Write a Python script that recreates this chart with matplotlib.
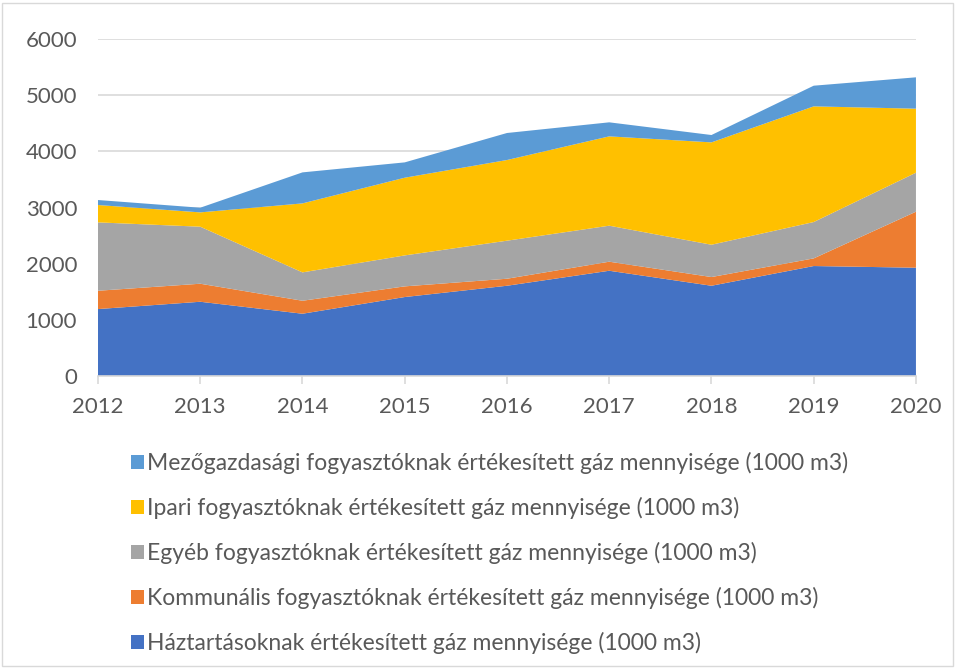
import matplotlib.pyplot as plt
from matplotlib.patches import Rectangle

# adatok (1000 m3)
evek = [2012, 2013, 2014, 2015, 2016, 2017, 2018, 2019, 2020]
haztartas = [1193, 1323, 1110, 1407, 1608, 1875, 1608, 1959, 1929]
kommunalis = [326, 321, 231, 190, 125, 161, 155, 136, 997]
egyeb = [1217, 1015, 505, 551, 677, 641, 575, 647, 694]
ipari = [309, 255, 1228, 1383, 1436, 1590, 1822, 2059, 1140]
mezogazdasagi = [89, 83, 552, 273, 481, 250, 131, 368, 558]

cimkek = [
    "Háztartásoknak értékesített gáz mennyisége (1000 m3)",
    "Kommunális fogyasztóknak értékesített gáz mennyisége (1000 m3)",
    "Egyéb fogyasztóknak értékesített gáz mennyisége (1000 m3)",
    "Ipari fogyasztóknak értékesített gáz mennyisége (1000 m3)",
    "Mezőgazdasági fogyasztóknak értékesített gáz mennyisége (1000 m3)",
]
szinek = ["#4472C4", "#ED7D31", "#A5A5A5", "#FFC000", "#5B9BD5"]

plt.rcParams['font.family'] = ['Lato', 'DejaVu Sans']

fig = plt.figure(figsize=(9.57, 6.68), dpi=100)
ax = fig.add_axes([0.1024, 0.437, 0.8547, 0.5046])

polys = ax.stackplot(evek, haztartas, kommunalis, egyeb, ipari, mezogazdasagi,
                     colors=szinek, labels=cimkek, zorder=2)

ax.set_xlim(2012, 2020)
ax.set_ylim(0, 6000)
ax.set_yticks(range(0, 6001, 1000))
ax.set_xticks(evek)
ax.grid(axis='y', color='#d9d9d9', linewidth=1.2, zorder=0)
for s in ['top', 'right', 'left']:
    ax.spines[s].set_visible(False)
ax.spines['bottom'].set_color('#d9d9d9')
ax.spines['bottom'].set_linewidth(1.2)
ax.spines['bottom'].set_zorder(3)
ax.tick_params(axis='y', length=0, labelsize=16, labelcolor='#595959', pad=15)
ax.tick_params(axis='x', length=6, color='#d9d9d9', width=1.2,
               labelsize=16, labelcolor='#595959', pad=9)

# jelmagyarazat forditott sorrendben
h, l = ax.get_legend_handles_labels()
fig.legend(h[::-1], l[::-1], loc='upper left', bbox_to_anchor=(0.115, 0.354),
           frameon=False, fontsize=16.5, labelcolor='#595959',
           handlelength=0.57, handleheight=0.6, handletextpad=0.15,
           labelspacing=1.0)

# keret
fig.patches.append(Rectangle((0.002, 0.003), 0.994, 0.992, transform=fig.transFigure,
                             fill=False, edgecolor='#d9d9d9', linewidth=1))

plt.savefig('out.png', dpi=100)
